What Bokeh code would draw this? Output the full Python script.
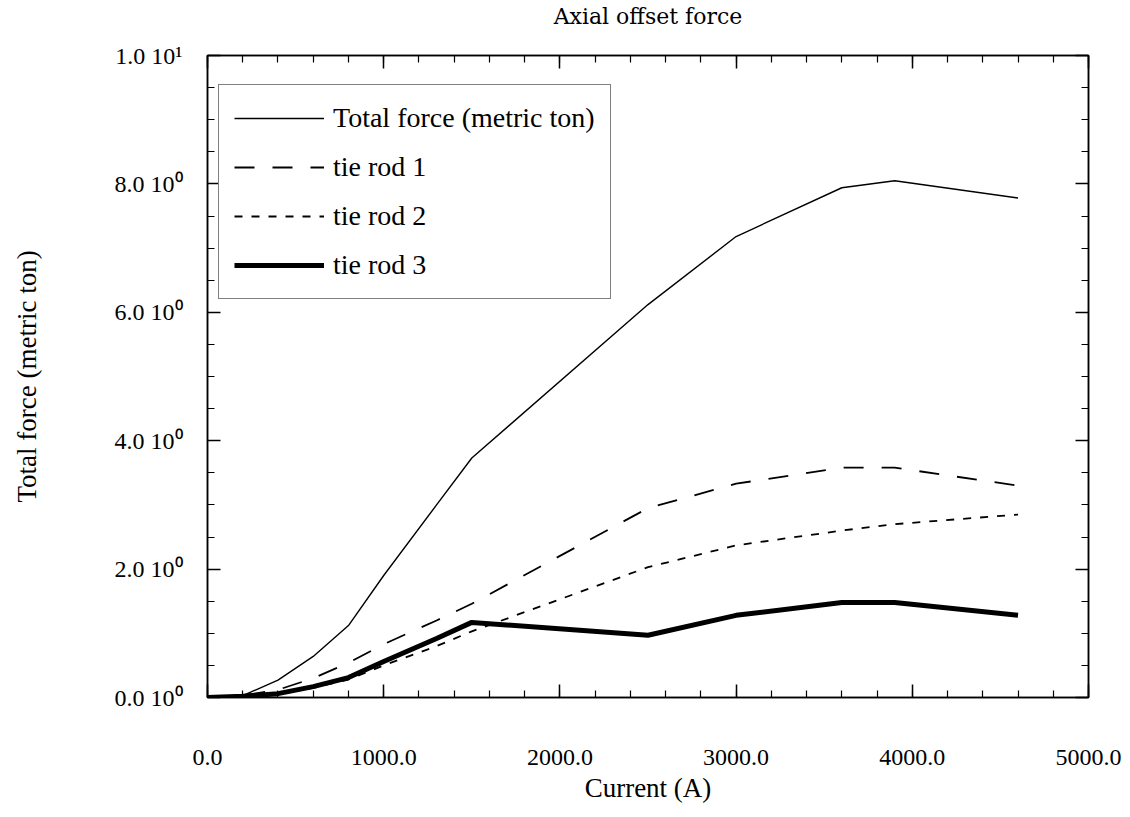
from bokeh.plotting import figure
from bokeh.models import (Range1d, LinearAxis, SingleIntervalTicker, Legend, LegendItem)
from bokeh.embed import file_html
from bokeh.resources import INLINE

# ---- data ----
current = [0, 200, 400, 600, 800, 1000, 1300, 1500, 2500, 3000, 3600, 3900, 4600]
total_force = [0, 0.03, 0.27, 0.64, 1.12, 1.9, 3.0, 3.73, 6.12, 7.18, 7.94, 8.05, 7.78]
tie_rod_1 = [0, 0.03, 0.12, 0.30, 0.54, 0.83, 1.20, 1.46, 2.95, 3.33, 3.58, 3.58, 3.30]
tie_rod_2 = [0, 0.02, 0.05, 0.15, 0.28, 0.50, 0.80, 1.03, 2.03, 2.37, 2.60, 2.70, 2.85]
tie_rod_3 = [0, 0.02, 0.06, 0.17, 0.31, 0.56, 0.92, 1.17, 0.97, 1.28, 1.48, 1.48, 1.28]

series_names = ["Total force (metric ton)", "tie rod 1", "tie rod 2", "tie rod 3"]
chart_title = "Axial offset force"

x_tick_values = [0, 1000, 2000, 3000, 4000, 5000]
x_tick_labels = ["0.0", "1000.0", "2000.0", "3000.0", "4000.0", "5000.0"]
y_tick_values = [0, 2, 4, 6, 8, 10]
y_tick_labels = ["0.0 10\u2070", "2.0 10\u2070", "4.0 10\u2070", "6.0 10\u2070", "8.0 10\u2070", "1.0 10\u00b9"]

FONT = "Liberation Serif"

p = figure(width=1122, height=809, output_backend="svg", toolbar_location=None,
           x_range=Range1d(0, 5000), y_range=Range1d(0, 10),
           x_axis_location=None, y_axis_location=None,
           min_border_left=207, min_border_right=34, min_border_top=55, min_border_bottom=112)
p.background_fill_color = "white"
p.border_fill_color = "white"
p.outline_line_color = "black"
p.outline_line_width = 1.5
p.grid.visible = False

def make_axis(ticker, labels=True):
    ax = LinearAxis(ticker=ticker)
    ax.axis_line_color = "black"
    ax.axis_line_width = 1.5
    ax.major_tick_line_color = "black"
    ax.minor_tick_line_color = "black"
    ax.major_tick_line_width = 1.5
    ax.minor_tick_line_width = 1.2
    ax.major_tick_in = 13
    ax.major_tick_out = 0
    ax.minor_tick_in = 7
    ax.minor_tick_out = 0
    ax.major_label_text_font = FONT
    ax.major_label_text_color = "black"
    ax.axis_label_text_font = FONT
    ax.axis_label_text_font_style = "normal"
    ax.axis_label_text_color = "black"
    if not labels:
        ax.major_label_standoff = 0
        ax.major_label_text_font_size = "1px"
    return ax

xt = SingleIntervalTicker(interval=1000, num_minor_ticks=5)
yt = SingleIntervalTicker(interval=2, num_minor_ticks=4)

xb = make_axis(xt)
xb.major_label_overrides = dict(zip(x_tick_values, x_tick_labels))
xb.major_label_text_font_size = "24px"
xb.major_label_standoff = 52
xb.axis_label = "Current (A)"
xb.axis_label_text_font_size = "27px"
xb.axis_label_standoff = 5
p.add_layout(xb, "below")

yl = make_axis(yt)
yl.major_label_overrides = dict(zip(y_tick_values, y_tick_labels))
yl.major_label_text_font_size = "24px"
yl.major_label_standoff = 25
yl.axis_label = "Total force (metric ton)"
yl.axis_label_text_font_size = "27px"
yl.axis_label_standoff = 70
p.add_layout(yl, "left")

# top axis carries the chart title as its label
xa = make_axis(SingleIntervalTicker(interval=1000, num_minor_ticks=5), labels=False)
xa.major_label_overrides = {v: "" for v in x_tick_values}
xa.axis_label = chart_title
xa.axis_label_text_font = "DejaVu Serif"
xa.axis_label_text_font_size = "22px"
xa.axis_label_standoff = 27
p.add_layout(xa, "above")

yr = make_axis(SingleIntervalTicker(interval=2, num_minor_ticks=4), labels=False)
yr.major_label_overrides = {v: "" for v in y_tick_values}
p.add_layout(yr, "right")

r0 = p.line(current, total_force, line_color="black", line_width=1.4)
r1 = p.line(current, tie_rod_1, line_color="black", line_width=1.8, line_dash="20 18")
r2 = p.line(current, tie_rod_2, line_color="black", line_width=1.8, line_dash="8 9")
r3 = p.line(current, tie_rod_3, line_color="black", line_width=5)

legend = Legend(items=[LegendItem(label=n, renderers=[r]) for n, r in zip(series_names, [r0, r1, r2, r3])],
                location=(11, 398))
legend.label_text_font = FONT
legend.label_text_font_size = "28px"
legend.label_text_color = "black"
legend.label_height = 36
legend.glyph_height = 36
legend.glyph_width = 90
legend.label_standoff = 9
legend.spacing = 13
legend.padding = 15
legend.margin = 0
legend.border_line_color = "black"
legend.border_line_width = 1.5
legend.background_fill_color = "white"
legend.background_fill_alpha = 1.0
p.add_layout(legend, "center")

open("out.html", "w").write(file_html(p, INLINE))
